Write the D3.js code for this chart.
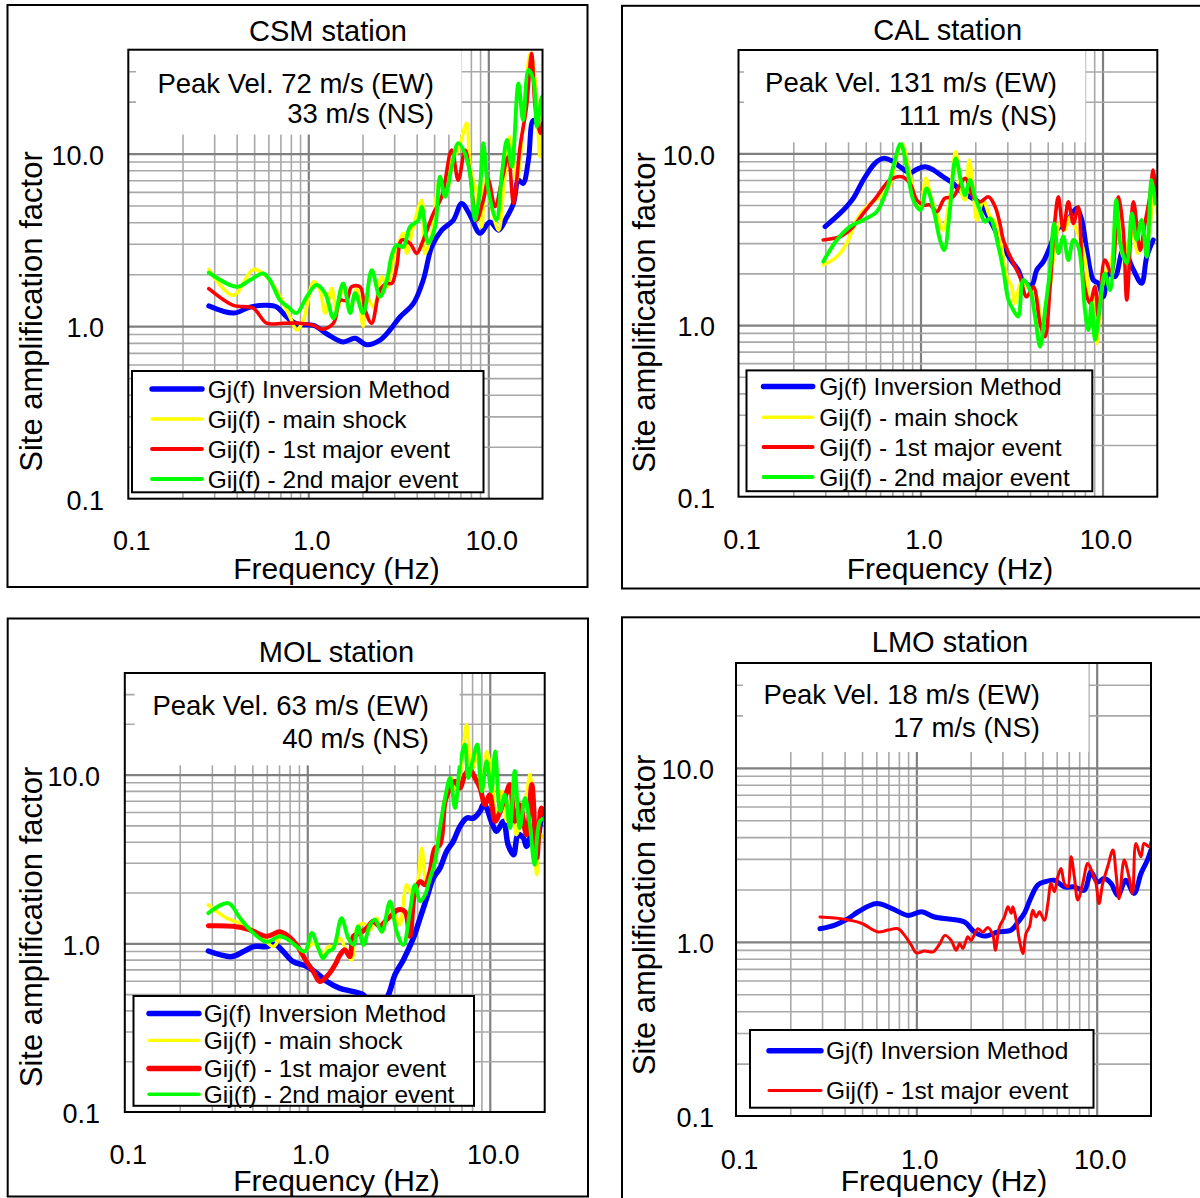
<!DOCTYPE html>
<html>
<head>
<meta charset="utf-8">
<script src="https://cdn.jsdelivr.net/npm/d3@7"></script>
<style>
  body { margin: 0; background: #fff; }
  svg { display: block; }
</style>
</head>
<body>
<svg id="chart" width="1200" height="1198"></svg>
<script>
// ---- Axis values ----
const freqDomain = [0.1, 20];
const ampDomain = [0.1, 40];
const tickValues = [0.1, 1, 10];
const tickLabels = ["0.1", "1.0", "10.0"];

// ---- Series names and colours ----
const seriesNames = ["Gj(f) Inversion Method", "Gij(f) - main shock", "Gij(f) - 1st major event", "Gij(f) - 2nd major event"];
const seriesColors = ["#0000ff", "#ffff00", "#ff0000", "#00ff00"];

// ---- Station titles and peak velocity notes ----
const stationTitles = ["CSM station", "CAL station", "MOL station", "LMO station"];
const peakNotes = [
  ["Peak Vel. 72 m/s (EW)", "33 m/s (NS)"],
  ["Peak Vel. 131 m/s (EW)", "111 m/s (NS)"],
  ["Peak Vel. 63 m/s (EW)", "40 m/s (NS)"],
  ["Peak Vel. 18 m/s (EW)", "17 m/s (NS)"]
];

// ---- CSM station: [frequency Hz, amplification] ----
const csmInversion = [[0.28,1.31],[0.385,1.19],[0.474,1.29],[0.587,1.32],[0.667,1.29],[0.759,1.13],[0.862,1.03],[1.07,1.01],[1.27,0.90],[1.56,0.81],[1.82,0.85],[2.11,0.78],[2.50,0.83],[2.84,0.95],[3.23,1.13],[3.83,1.35],[4.35,1.85],[4.85,2.88],[5.51,3.60],[6.39,4.11],[7.11,5.14],[7.91,4.40],[9.0,3.45],[10.2,4.02],[11.4,3.60],[12.7,4.30],[13.8,5.14],[14.7,7.0],[15.6,6.72],[16.7,9.17],[17.8,15.6],[19.4,14.3],[20,15.5]];
const csmMainShock = [[0.28,2.13],[0.383,1.51],[0.495,2.13],[0.587,1.93],[0.697,1.48],[0.791,1.13],[0.862,0.95],[0.938,1.08],[1.07,1.81],[1.16,1.62],[1.24,1.19],[1.35,1.65],[1.44,1.21],[1.56,1.69],[1.71,1.27],[1.86,1.65],[2.02,1.0],[2.11,1.48],[2.30,1.29],[2.56,1.93],[2.73,1.69],[2.97,2.41],[3.23,3.15],[3.37,3.45],[3.52,2.64],[3.83,3.76],[4.27,5.37],[4.45,2.64],[4.85,3.45],[5.39,7.02],[5.87,5.88],[6.26,9.17],[6.81,10.5],[7.59,15.0],[7.91,8.38],[8.62,5.88],[9.19,3.76],[9.59,7.02],[10.2,5.37],[11.4,3.60],[12.1,5.88],[13.2,12.5],[14.4,7.02],[15.6,14.3],[17.1,38.1],[18.2,26.7],[19.4,9.58],[20,18.7]];
const csmFirstEvent = [[0.28,1.65],[0.383,1.32],[0.495,1.27],[0.587,1.04],[0.726,1.04],[0.90,1.04],[1.07,1.01],[1.19,0.96],[1.38,1.04],[1.50,1.41],[1.63,1.41],[1.74,1.69],[1.94,1.69],[2.07,1.24],[2.25,1.04],[2.50,1.62],[2.73,1.77],[2.91,1.77],[3.10,2.21],[3.30,3.15],[3.67,3.02],[4.0,2.64],[4.35,3.15],[4.95,4.50],[5.51,5.62],[6.26,10.5],[6.81,7.02],[7.42,10.5],[7.91,7.68],[8.62,4.11],[9.38,5.37],[10.0,7.02],[10.9,4.92],[11.9,7.02],[12.9,9.58],[13.8,5.14],[15.0,10.9],[16.3,18.7],[17.4,38.1],[18.2,18.7],[19.4,13.1],[20,15.0]];
const csmSecondEvent = [[0.28,2.04],[0.40,1.69],[0.474,1.85],[0.562,2.02],[0.612,1.85],[0.697,1.41],[0.774,1.29],[0.862,1.19],[0.98,1.48],[1.11,1.73],[1.24,1.55],[1.38,1.11],[1.56,1.77],[1.71,1.19],[1.82,1.55],[2.02,1.19],[2.25,2.11],[2.50,1.48],[2.73,1.85],[2.91,2.58],[3.10,2.95],[3.37,2.88],[3.67,3.76],[4.08,4.11],[4.27,4.92],[4.64,3.02],[5.06,3.76],[5.39,7.34],[5.75,5.62],[6.26,8.38],[6.81,11.5],[7.42,10.0],[7.91,7.68],[8.44,4.11],[9.0,6.42],[9.38,11.5],[10.0,6.14],[11.1,4.11],[11.9,7.68],[12.7,12.0],[13.5,8.38],[14.7,25.5],[15.6,15.6],[16.7,30.5],[17.8,26.7],[18.6,14.3],[19.8,21.3],[20,20.0]];

// ---- CAL station ----
const calInversion = [[0.299,3.74],[0.377,4.68],[0.427,5.47],[0.485,7.0],[0.562,8.75],[0.625,9.35],[0.695,9.06],[0.771,8.36],[0.875,7.71],[0.953,8.07],[1.06,8.36],[1.18,7.99],[1.33,7.31],[1.51,6.68],[1.68,5.97],[1.87,5.58],[2.12,5.11],[2.41,4.09],[2.73,3.13],[3.10,2.44],[3.44,2.09],[3.67,1.79],[4.08,1.71],[4.35,2.09],[4.73,2.34],[5.15,2.86],[5.60,3.57],[6.09,3.91],[6.62,4.27],[7.21,4.78],[7.69,4.09],[8.19,2.73],[8.90,1.83],[9.48,1.75],[10.1,1.46],[10.8,2.0],[11.7,1.91],[13.0,2.73],[14.8,2.09],[16.4,1.75],[17.5,2.50],[19.0,3.13]];
const calMainShock = [[0.292,2.24],[0.347,2.50],[0.393,2.99],[0.446,4.09],[0.516,5.0],[0.599,5.58],[0.680,6.54],[0.724,8.75],[0.789,11.4],[0.857,8.36],[0.933,5.58],[1.0,4.89],[1.07,7.15],[1.15,5.35],[1.25,4.27],[1.33,3.57],[1.45,5.58],[1.56,10.2],[1.68,5.85],[1.76,5.35],[1.85,9.14],[1.95,6.11],[2.04,4.09],[2.21,5.35],[2.41,4.27],[2.62,3.91],[2.85,2.50],[2.98,1.91],[3.17,1.67],[3.30,1.34],[3.60,1.79],[4.0,1.60],[4.35,1.46],[4.63,0.935],[4.83,1.12],[5.15,1.67],[5.48,2.86],[5.84,3.91],[6.22,3.57],[6.62,4.27],[7.21,3.57],[7.69,2.99],[8.19,2.09],[8.53,1.34],[8.90,1.46],[9.29,0.782],[9.9,1.60],[10.5,2.09],[11.2,2.39],[12.0,5.35],[13.0,2.50],[14.5,3.42],[15.7,2.62],[16.8,3.13],[17.8,3.27],[19.0,6.11],[20,4.47]];
const calFirstEvent = [[0.292,3.13],[0.361,3.27],[0.427,3.74],[0.485,4.47],[0.574,5.58],[0.68,7.0],[0.789,7.31],[0.875,6.69],[0.953,5.35],[1.04,5.0],[1.13,5.0],[1.23,4.57],[1.36,5.47],[1.51,5.58],[1.61,6.25],[1.76,7.15],[1.95,5.58],[2.12,5.22],[2.36,5.58],[2.57,4.89],[2.73,3.91],[2.85,3.13],[3.24,2.29],[3.52,1.91],[3.83,1.46],[4.17,1.67],[4.54,1.02],[4.83,0.855],[5.15,1.67],[5.48,4.09],[5.72,5.58],[6.09,3.57],[6.49,5.22],[6.92,3.91],[7.36,4.89],[7.85,1.83],[8.53,1.34],[9.09,1.67],[9.48,1.12],[10.3,2.39],[11.2,2.0],[12.2,5.58],[13.0,3.57],[13.6,1.40],[14.8,5.22],[16.1,2.73],[17.1,3.91],[18.2,5.58],[19.0,8.0],[19.9,5.58]];
const calSecondEvent = [[0.292,2.34],[0.347,3.13],[0.410,3.74],[0.485,4.09],[0.574,4.57],[0.652,6.11],[0.724,9.14],[0.778,11.4],[0.84,8.36],[0.913,5.35],[1.0,4.68],[1.08,6.25],[1.18,4.68],[1.28,3.13],[1.35,2.73],[1.45,4.68],[1.56,9.35],[1.68,6.69],[1.76,5.71],[1.87,7.0],[1.99,5.58],[2.12,4.68],[2.26,4.0],[2.41,4.18],[2.68,2.86],[2.85,2.09],[3.04,1.40],[3.24,1.22],[3.44,1.12],[3.67,1.83],[4.0,1.60],[4.26,1.12],[4.54,0.748],[4.83,1.22],[5.15,2.09],[5.42,3.91],[5.72,2.62],[6.09,3.27],[6.49,2.39],[6.92,3.13],[7.36,2.86],[7.69,2.09],[8.01,1.22],[8.36,0.935],[8.73,1.34],[9.09,0.818],[9.7,1.34],[10.3,2.0],[11.0,1.60],[11.9,5.35],[12.5,2.99],[13.6,2.29],[14.5,4.47],[15.4,3.13],[16.4,4.09],[17.5,2.50],[18.6,7.0],[19.5,5.11]];

// ---- MOL station ----
const molInversion = [[0.287,0.90],[0.385,0.834],[0.446,0.893],[0.506,0.956],[0.60,0.956],[0.665,0.986],[0.738,0.893],[0.838,0.778],[0.97,0.738],[1.10,0.679],[1.28,0.593],[1.51,0.541],[1.79,0.517],[2.03,0.494],[2.35,0.37],[2.78,0.494],[3.02,0.649],[3.36,0.797],[3.81,1.07],[4.15,1.41],[4.51,1.85],[4.90,2.43],[5.33,2.79],[5.80,3.50],[6.31,4.02],[6.87,4.93],[7.47,5.52],[8.13,5.52],[8.84,6.05],[9.21,6.63],[9.61,6.34],[10.2,5.28],[10.9,4.61],[11.9,5.28],[12.6,3.84],[13.5,3.35],[14.3,4.40],[15.3,4.20],[15.9,3.75],[17.0,4.40],[18.1,4.20],[19.2,5.52],[20,6.05]];
const molMainShock = [[0.287,1.69],[0.362,1.41],[0.446,1.29],[0.551,1.12],[0.652,0.956],[0.738,1.15],[0.838,1.02],[0.951,0.893],[1.08,1.0],[1.22,0.853],[1.30,0.956],[1.39,0.956],[1.51,1.07],[1.64,0.893],[1.75,0.797],[1.87,1.23],[2.03,1.31],[2.21,1.20],[2.40,1.41],[2.56,1.17],[2.84,1.61],[3.09,1.41],[3.22,1.29],[3.51,2.22],[3.81,1.85],[4.06,2.43],[4.24,3.66],[4.51,2.22],[4.81,2.67],[5.12,3.84],[5.45,5.28],[5.80,7.26],[6.18,9.55],[6.59,7.96],[7.02,11.5],[7.47,19.8],[7.96,10.5],[8.47,13.1],[9.03,7.6],[9.61,13.7],[10.2,10.0],[10.9,5.52],[11.6,7.96],[12.4,5.28],[13.2,7.6],[14.0,4.40],[15.0,6.05],[15.9,7.6],[16.6,10.0],[17.3,6.05],[18.1,2.55],[18.8,4.40],[20,4.20]];
const molFirstEvent = [[0.287,1.27],[0.393,1.26],[0.485,1.20],[0.60,1.10],[0.708,1.17],[0.787,1.10],[0.875,0.978],[0.99,0.778],[1.08,0.679],[1.17,0.593],[1.30,0.649],[1.42,0.745],[1.51,0.853],[1.61,0.914],[1.71,0.834],[1.79,1.10],[1.94,1.15],[2.12,1.23],[2.30,1.35],[2.50,1.26],[2.72,1.38],[2.90,1.47],[3.15,1.58],[3.43,1.54],[3.65,1.10],[3.89,2.03],[4.15,2.32],[4.42,2.22],[4.71,2.67],[5.01,3.66],[5.33,3.84],[5.69,6.94],[6.06,8.32],[6.45,9.12],[6.87,8.32],[7.31,10.0],[7.79,10.7],[8.30,9.55],[8.84,8.32],[9.42,6.63],[10.0,7.6],[10.7,5.28],[11.4,6.05],[12.1,7.26],[12.9,8.72],[13.7,5.28],[14.6,6.63],[15.9,4.40],[17.0,8.72],[18.1,3.20],[19.2,6.34],[20,5.78]];
const molSecondEvent = [[0.287,1.51],[0.369,1.73],[0.428,1.41],[0.506,1.15],[0.60,1.02],[0.708,1.10],[0.787,1.05],[0.875,0.956],[0.97,0.893],[1.06,1.15],[1.15,0.934],[1.22,0.815],[1.30,0.893],[1.39,0.934],[1.54,1.41],[1.68,1.07],[1.79,0.978],[1.90,1.26],[2.03,0.978],[2.21,1.29],[2.35,1.38],[2.56,1.17],[2.84,1.77],[3.09,1.17],[3.36,0.978],[3.65,1.54],[3.89,2.22],[4.15,1.77],[4.42,1.94],[4.71,2.43],[5.01,3.05],[5.33,4.82],[5.69,7.26],[6.06,9.55],[6.45,6.34],[6.87,11.5],[7.31,15.1],[7.62,9.55],[8.13,12.6],[8.55,15.1],[9.03,7.96],[9.61,12.0],[10.2,7.96],[10.7,13.7],[11.4,6.05],[12.1,7.6],[12.9,4.82],[13.7,10.5],[14.6,4.82],[15.6,7.26],[16.6,5.05],[17.6,2.92],[18.8,5.28],[20,5.52]];

// ---- LMO station ----
const lmoInversion = [[0.292,1.19],[0.353,1.25],[0.419,1.36],[0.476,1.49],[0.601,1.66],[0.728,1.56],[0.90,1.42],[1.07,1.49],[1.26,1.39],[1.56,1.35],[1.85,1.30],[2.10,1.14],[2.39,1.08],[2.83,1.14],[3.36,1.17],[3.66,1.30],[3.97,1.46],[4.33,1.81],[4.71,2.12],[5.13,2.21],[5.82,2.26],[6.62,2.07],[7.52,2.07],[8.54,1.98],[9.29,2.52],[10.1,2.21],[11.0,2.31],[12.0,2.17],[13.1,1.85],[14.5,2.26],[16.1,1.90],[17.6,2.47],[19.1,2.95],[20,3.37]];
const lmoFirstEvent = [[0.292,1.39],[0.401,1.35],[0.496,1.28],[0.614,1.14],[0.697,1.17],[0.792,1.19],[0.861,1.09],[0.938,0.957],[1.0,0.865],[1.11,0.888],[1.24,0.877],[1.35,0.979],[1.44,1.09],[1.56,1.02],[1.66,0.896],[1.74,0.979],[1.81,0.916],[1.93,1.07],[2.01,1.02],[2.19,1.19],[2.34,1.14],[2.49,1.21],[2.66,1.09],[2.74,0.896],[2.89,1.22],[3.08,1.39],[3.22,1.59],[3.36,1.46],[3.43,1.59],[3.58,1.33],[3.73,1.02],[3.89,0.857],[4.06,1.12],[4.24,1.22],[4.42,1.52],[4.61,1.39],[4.81,1.49],[5.13,1.33],[5.36,1.66],[5.58,2.17],[5.82,1.94],[6.08,2.36],[6.34,2.64],[6.62,2.17],[6.91,2.07],[7.21,3.08],[7.52,2.36],[7.85,1.74],[8.37,2.17],[8.92,2.82],[9.5,2.47],[9.91,2.17],[10.3,1.66],[10.8,2.17],[11.5,2.70],[12.3,3.37],[12.8,2.47],[13.3,1.77],[14.2,2.95],[15.1,2.36],[15.8,1.90],[16.5,3.68],[17.6,3.08],[18.3,3.68],[19.5,3.52],[20,3.76]];

// ---- Panel layout (pixels) ----
const FONT = "'Liberation Sans', Arial, Helvetica, sans-serif";
const panels = [
  { title: stationTitles[0], note: peakNotes[0],
    series: [csmInversion, csmMainShock, csmFirstEvent, csmSecondEvent], keys: [0, 1, 2, 3],
    widths: [5, 3.6, 3.6, 3.9], legendWidths: [5.4, 3.5, 3.8, 3.8],
    frame: [7.5, 5, 580, 582], plot: [128.3, 49.7, 542.5, 498.7], titlePos: [328, 40.5],
    noteBox: [136, 50, 461.5, 134.6], noteX: 434, noteY: [92.5, 123],
    legendBox: [132, 371, 483.5, 492.3], legendRows: [389, 419, 449, 479], legendLine: [152, 202], legendText: 207.7,
    xTickY: 550, yTickX: 104, yTitle: [42, 311.5], xTitle: [336.5, 579] },
  { title: stationTitles[1], note: peakNotes[1],
    series: [calInversion, calMainShock, calFirstEvent, calSecondEvent], keys: [0, 1, 2, 3],
    widths: [5, 3.6, 3.6, 3.9], legendWidths: [5.4, 3.5, 3.8, 3.8],
    frame: [622, 5.8, 600, 582.7], plot: [738.5, 50, 1157.3, 496.7], titlePos: [947.7, 40.4],
    noteBox: [744, 50, 1085.4, 142.3], noteX: 1057, noteY: [92.3, 125],
    legendBox: [746.5, 370.4, 1092.3, 491.2], legendRows: [386.5, 417.3, 447, 477], legendLine: [763.5, 812.7], legendText: 819.2,
    xTickY: 549, yTickX: 715, yTitle: [655, 312.5], xTitle: [950, 579] },
  { title: stationTitles[2], note: peakNotes[2],
    series: [molInversion, molMainShock, molFirstEvent, molSecondEvent], keys: [0, 1, 2, 3],
    widths: [5.5, 3.6, 5, 3.9], legendWidths: [5.4, 3.2, 5.4, 3.5],
    frame: [7.7, 618.5, 580.3, 578], plot: [124.8, 673, 544.7, 1112], titlePos: [336.5, 661.5],
    noteBox: [134.6, 673, 459.6, 765.4], noteX: 429, noteY: [715.4, 748],
    legendBox: [133.5, 996, 474, 1105.8], legendRows: [1013.5, 1040.4, 1068.5, 1094.2], legendLine: [149, 199], legendText: 203.8,
    xTickY: 1164, yTickX: 100, yTitle: [42, 927], xTitle: [336.5, 1191] },
  { title: stationTitles[3], note: peakNotes[3],
    series: [lmoInversion, lmoFirstEvent], keys: [0, 2],
    widths: [5, 3], legendWidths: [5.4, 3],
    frame: [622, 617.3, 600, 600], plot: [736, 663, 1151, 1116], titlePos: [950, 652],
    noteBox: [743, 664, 1088.5, 752], noteX: 1040, noteY: [703.8, 736.5],
    legendBox: [750, 1030, 1093.5, 1107.7], legendRows: [1050.8, 1090.4], legendLine: [769, 821], legendText: 826,
    xTickY: 1169, yTickX: 714, yTitle: [655, 915], xTitle: [944, 1191] }
];

const svg = d3.select("#chart");
const isMajor = v => Math.abs(Math.log10(v) - Math.round(Math.log10(v))) < 1e-6;

panels.forEach((p, pi) => {
  const [px0, py0, px1, py1] = p.plot;
  const x = d3.scaleLog().domain(freqDomain).range([px0, px1]);
  const y = d3.scaleLog().domain(ampDomain).range([py1, py0]);
  const g = svg.append("g").attr("font-family", FONT);

  // outer frame
  g.append("rect")
    .attr("x", p.frame[0]).attr("y", p.frame[1])
    .attr("width", p.frame[2]).attr("height", p.frame[3])
    .attr("fill", "none").attr("stroke", "#000").attr("stroke-width", 2);

  // log grid (vertical)
  const innerX = x.ticks().filter(v => v > freqDomain[0] * 1.001 && v < freqDomain[1] * 0.999);
  const gx = g.append("g").attr("transform", `translate(0,${py1})`)
    .call(d3.axisBottom(x).tickValues(innerX).tickSize(-(py1 - py0)).tickFormat(""));
  gx.select(".domain").remove();
  gx.selectAll(".tick line")
    .attr("stroke", d => isMajor(d) ? "#808080" : "#a8a8a8")
    .attr("stroke-width", d => isMajor(d) ? 2.2 : 1.6);

  // log grid (horizontal)
  const innerY = y.ticks().filter(v => v > ampDomain[0] * 1.001 && v < ampDomain[1] * 0.999);
  const gy = g.append("g").attr("transform", `translate(${px0},0)`)
    .call(d3.axisLeft(y).tickValues(innerY).tickSize(-(px1 - px0)).tickFormat(""));
  gy.select(".domain").remove();
  gy.selectAll(".tick line")
    .attr("stroke", d => isMajor(d) ? "#808080" : "#a8a8a8")
    .attr("stroke-width", d => isMajor(d) ? 2.2 : 1.6);

  // clip region for curves
  const clipId = "plotclip" + pi;
  g.append("clipPath").attr("id", clipId).append("rect")
    .attr("x", px0).attr("y", py0).attr("width", px1 - px0).attr("height", py1 - py0);

  // smoothed spectra
  const line = d3.line().x(d => x(d[0])).y(d => y(d[1])).curve(d3.curveCatmullRom.alpha(0.5));
  p.series.forEach((s, k) => {
    g.append("path").datum(s)
      .attr("clip-path", `url(#${clipId})`)
      .attr("d", line)
      .attr("fill", "none")
      .attr("stroke", seriesColors[p.keys[k]])
      .attr("stroke-width", p.widths[k])
      .attr("stroke-linejoin", "round")
      .attr("stroke-linecap", "round");
  });

  // peak velocity note
  g.append("rect")
    .attr("x", p.noteBox[0]).attr("y", p.noteBox[1])
    .attr("width", p.noteBox[2] - p.noteBox[0]).attr("height", p.noteBox[3] - p.noteBox[1])
    .attr("fill", "#fff");
  p.note.forEach((t, i) => {
    g.append("text").attr("x", p.noteX).attr("y", p.noteY[i])
      .attr("text-anchor", "end").attr("font-size", 27.5).attr("fill", "#000").text(t);
  });

  // plot border
  g.append("rect").attr("x", px0).attr("y", py0)
    .attr("width", px1 - px0).attr("height", py1 - py0)
    .attr("fill", "none").attr("stroke", "#000").attr("stroke-width", 2);

  // legend
  const lb = p.legendBox;
  g.append("rect").attr("x", lb[0]).attr("y", lb[1])
    .attr("width", lb[2] - lb[0]).attr("height", lb[3] - lb[1])
    .attr("fill", "#fff").attr("stroke", "#000").attr("stroke-width", 2);
  p.keys.forEach((key, i) => {
    const ry = p.legendRows[i];
    g.append("line").attr("x1", p.legendLine[0]).attr("x2", p.legendLine[1])
      .attr("y1", ry).attr("y2", ry)
      .attr("stroke", seriesColors[key]).attr("stroke-width", p.legendWidths[i])
      .attr("stroke-linecap", "round");
    g.append("text").attr("x", p.legendText).attr("y", ry + 8.5)
      .attr("font-size", 24.5).attr("fill", "#000").text(seriesNames[key]);
  });

  // frequency tick labels
  const ax = g.append("g").attr("transform", `translate(3,${p.xTickY})`)
    .call(d3.axisBottom(x).tickValues(tickValues).tickFormat((d, i) => tickLabels[i]).tickSize(0).tickPadding(0));
  ax.attr("font-family", FONT).attr("font-size", 27);
  ax.select(".domain").remove();
  ax.selectAll(".tick text").attr("y", 0).attr("dy", 0).attr("fill", "#000");

  // amplification tick labels
  const ay = g.append("g").attr("transform", `translate(${p.yTickX},0)`)
    .call(d3.axisLeft(y).tickValues(tickValues).tickFormat((d, i) => tickLabels[i]).tickSize(0).tickPadding(0));
  ay.attr("font-family", FONT).attr("font-size", 27);
  ay.select(".domain").remove();
  ay.selectAll(".tick text").attr("x", 0).attr("dy", "0.4em").attr("fill", "#000");

  // titles
  g.append("text").attr("x", p.titlePos[0]).attr("y", p.titlePos[1])
    .attr("text-anchor", "middle").attr("font-size", 29).attr("fill", "#000").text(p.title);
  g.append("text").attr("x", p.xTitle[0]).attr("y", p.xTitle[1])
    .attr("text-anchor", "middle").attr("font-size", 30).attr("fill", "#000").text("Frequency (Hz)");
  g.append("text")
    .attr("transform", `translate(${p.yTitle[0]},${p.yTitle[1]}) rotate(-90)`)
    .attr("text-anchor", "middle").attr("font-size", 31).attr("fill", "#000")
    .text("Site amplification factor");
});
</script>
</body>
</html>
